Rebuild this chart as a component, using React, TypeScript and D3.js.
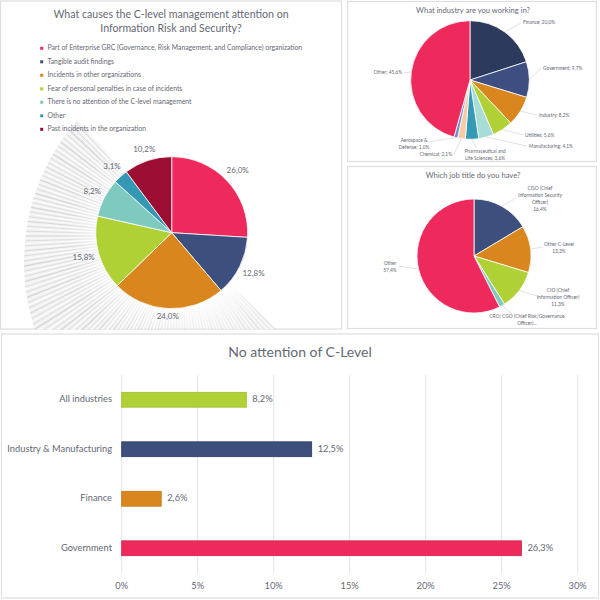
import React from 'react';
import * as d3 from 'd3';

// ---- data ----
const causeLabels = [
  'Part of Enterprise GRC (Governance, Risk Management, and Compliance) organization',
  'Tangible audit findings',
  'Incidents in other organizations',
  'Fear of personal penalties in case of incidents',
  'There is no attention of the C-level management',
  'Other',
  'Past incidents in the organization',
];
const causeValues = [26.0, 12.8, 24.0, 15.8, 8.2, 3.1, 10.2];
const causeColors = ['#ee2a5c', '#3d4f7d', '#d9861f', '#afd135', '#7ecabf', '#3498b5', '#9b0d33'];

const industryNames = [
  'Finance', 'Government', 'Industry', 'Utilities', 'Manufacturing',
  'Pharmaceutical and|Life Sciences', 'Chemical', 'Aerospace &|Defense', 'Other',
];
const industryValues = [20.0, 9.7, 8.2, 5.6, 4.1, 3.6, 2.1, 1.0, 45.6];
const industryColors = ['#2c3a5d', '#3d4f80', '#d9861f', '#afd135', '#a9dcd6', '#3399b5', '#f9cba2', '#6e8fcb', '#ee2a5c'];

const jobNames = [
  'CISO (Chief|Information Security|Officer)', 'Other C-Level', 'CIO (Chief|Information Officer)',
  'CRO; CGO (Chief Risk/Governance|Officer)...', 'Other',
];
const jobValues = [16.4, 13.3, 11.3, 1.6, 57.4];
const jobColors = ['#3d4f7d', '#d9861f', '#afd135', '#7ecabf', '#ee2a5c'];
const jobShowValue = [true, true, true, false, true];

const barCategories = ['All industries', 'Industry & Manufacturing', 'Finance', 'Government'];
const barValues = [8.2, 12.5, 2.6, 26.3];
const barColors = ['#afd135', '#3d4f7d', '#d9861f', '#ee2a5c'];
const barStrokes = ['#9dbd2c', '#2c3a5e', '#c47518', '#d81f4f'];
const barTicks = [0, 5, 10, 15, 20, 25, 30];

// ---- label layout (relative to pie centre) ----
type Lbl = { x: number; y: number; anchor: 'start' | 'middle' | 'end'; lx: number; ly: number };
const industryLayout: Lbl[] = [
  { x: 53, y: -57, anchor: 'start', lx: 51, ly: -57 },
  { x: 73, y: -11, anchor: 'start', lx: 71, ly: -12 },
  { x: 69, y: 36, anchor: 'start', lx: 67, ly: 35 },
  { x: 55, y: 56, anchor: 'start', lx: 53, ly: 55 },
  { x: 59, y: 67, anchor: 'start', lx: 57, ly: 66 },
  { x: 15, y: 72, anchor: 'middle', lx: 6, ly: 68 },
  { x: -18, y: 75, anchor: 'end', lx: -16, ly: 74 },
  { x: -56, y: 61, anchor: 'middle', lx: -42, ly: 62 },
  { x: -68, y: -7, anchor: 'end', lx: -66, ly: -7 },
];
const jobLayout: Lbl[] = [
  { x: 66, y: -67, anchor: 'middle', lx: 42, ly: -58 },
  { x: 85, y: -11, anchor: 'middle', lx: 69, ly: -9 },
  { x: 84, y: 35, anchor: 'middle', lx: 63, ly: 40 },
  { x: 53, y: 61, anchor: 'middle', lx: 38, ly: 58 },
  { x: -84, y: 8, anchor: 'middle', lx: -76, ly: 10 },
];

const FONT = 'Lato, "Open Sans", sans-serif';
const TEXT = '#646873';
const fmt = (v: number) => d3.format('.1f')(v).replace('.', ',') + '%';

const pieGen = d3.pie<number>().sort(null).value(d => d);

function Pie({ cx, cy, r, values, colors }: { cx: number; cy: number; r: number; values: number[]; colors: string[] }) {
  const arcs = pieGen(values);
  const arc = d3.arc<d3.PieArcDatum<number>>().innerRadius(0).outerRadius(r);
  return (
    <g transform={`translate(${cx},${cy})`}>
      {arcs.map((a, i) => (
        <path key={i} d={arc(a) || ''} fill={colors[i]} stroke="#fff" strokeWidth={0.8} />
      ))}
    </g>
  );
}

function LeaderLabels({ cx, cy, r, values, lines, layout, fs }: {
  cx: number; cy: number; r: number; values: number[]; lines: string[][]; layout: Lbl[]; fs: number;
}) {
  const arcs = pieGen(values);
  return (
    <g transform={`translate(${cx},${cy})`} fontFamily={FONT} fontSize={fs} fill={TEXT}>
      {arcs.map((a, i) => {
        const mid = (a.startAngle + a.endAngle) / 2;
        const sx = Math.sin(mid) * r;
        const sy = -Math.cos(mid) * r;
        const L = layout[i];
        return (
          <g key={i}>
            <line x1={sx} y1={sy} x2={L.lx} y2={L.ly} stroke="#c4c4c4" strokeWidth={0.5} />
            <text textAnchor={L.anchor} dominantBaseline="middle">
              {lines[i].map((t, j) => (
                <tspan key={j} x={L.x} y={L.y + j * fs * 1.4}>{t}</tspan>
              ))}
            </text>
          </g>
        );
      })}
    </g>
  );
}

// decorative light-streak background behind the first pie
function Streaks() {
  const c = { x: 182, y: 236 };
  const angles = d3.range(45, 228, 0.9);
  // same fan as the lines, in d3.arc's angle convention (0 = up, clockwise)
  const wedge = d3.arc()({ innerRadius: 0, outerRadius: 340, startAngle: (135 * Math.PI) / 180, endAngle: (318 * Math.PI) / 180 }) || '';
  return (
    <g>
      <defs>
        <radialGradient id="fade" cx={c.x} cy={c.y} r={230} gradientUnits="userSpaceOnUse">
          <stop offset="0" stopColor="#000" />
          <stop offset="0.28" stopColor="#000" />
          <stop offset="0.5" stopColor="#fff" stopOpacity={0.9} />
          <stop offset="0.8" stopColor="#fff" />
          <stop offset="1" stopColor="#000" />
        </radialGradient>
        <mask id="streakMask">
          <rect x={0} y={0} width={342} height={330} fill="url(#fade)" />
        </mask>
        <clipPath id="p1clip">
          <circle cx={240} cy={262} r={216} />
        </clipPath>
      </defs>
      <g clipPath="url(#p1clip)">
        <g mask="url(#streakMask)">
          <path d={wedge} transform={`translate(${c.x},${c.y})`} fill="#f0f0f0" />
          {angles.map((a, i) => {
            const rad = (a * Math.PI) / 180;
            const gray = i % 2 === 0;
            return (
              <line key={i} x1={c.x} y1={c.y} x2={c.x + Math.cos(rad) * 340} y2={c.y + Math.sin(rad) * 340}
                stroke={gray ? '#cdcdcd' : '#ffffff'} strokeWidth={i % 3 === 0 ? 1.1 : 0.7}
                opacity={a < 100 ? 0.55 : 0.85} />
            );
          })}
        </g>
      </g>
    </g>
  );
}

export default function App() {
  // panel 1 pie
  const p1 = { cx: 171.7, cy: 232.7, r: 76 };
  const p1Arcs = pieGen(causeValues);
  const p1fs = 8;

  // panel 2 / 3
  const p2 = { cx: 470, cy: 80, r: 59.3 };
  const p3 = { cx: 474, cy: 256, r: 57 };
  const industryLines = industryNames.map((n, i) => {
    const parts = n.split('|');
    parts[parts.length - 1] += '; ' + fmt(industryValues[i]);
    return parts;
  });
  const jobLines = jobNames.map((n, i) => {
    const parts = n.split('|');
    return jobShowValue[i] ? [...parts, fmt(jobValues[i])] : parts;
  });

  // bar chart
  const x = d3.scaleLinear().domain([0, 30]).range([121.7, 577.7]);
  const y = d3.scaleBand<string>().domain(barCategories).range([375, 573]).paddingInner(0.7).paddingOuter(0.35);

  return (
    <div style={{ position: 'absolute', left: 0, top: 0, width: 600, height: 600 }}>
      <svg width={600} height={600} viewBox="0 0 600 600" style={{ display: 'block', background: '#fff' }}>
        {/* panel frames */}
        <rect x={0.5} y={1} width={341} height={328} fill="#fff" stroke="#dedede" strokeWidth={1.2} />
        <rect x={347.5} y={1.5} width={249} height={160} fill="#fff" stroke="#dedede" strokeWidth={1.2} />
        <rect x={347.5} y={166.5} width={249} height={162} fill="#fff" stroke="#dedede" strokeWidth={1.2} />
        <rect x={1.5} y={334} width={597} height={264} fill="#fff" stroke="#dedede" strokeWidth={1.2} />

        {/* panel 1 */}
        <Streaks />
        <text x={171} y={15} textAnchor="middle" dominantBaseline="middle" fontFamily={FONT} fontSize={10.6} fill={TEXT}>
          <tspan x={171} y={15}>What causes the C-level management attention on</tspan>
          <tspan x={171} y={28.5}>Information Risk and Security?</tspan>
        </text>
        <g fontFamily={FONT} fontSize={6.8} fill={TEXT}>
          {causeLabels.map((t, i) => (
            <g key={i} transform={`translate(0,${48.3 + i * 13.5})`}>
              <rect x={40.2} y={-1.5} width={3} height={3} fill={causeColors[i]} />
              <text x={47.5} y={0} dominantBaseline="middle">{t}</text>
            </g>
          ))}
        </g>
        <Pie {...p1} values={causeValues} colors={causeColors} />
        <g transform={`translate(${p1.cx},${p1.cy})`} fontFamily={FONT} fontSize={p1fs} fill={TEXT}>
          {p1Arcs.map((a, i) => {
            const mid = (a.startAngle + a.endAngle) / 2;
            const s = Math.sin(mid), c = -Math.cos(mid);
            const label = fmt(causeValues[i]);
            const hw = label.length * p1fs * 0.27, hh = p1fs * 0.5;
            const d = p1.r + 4 + Math.abs(s) * hw + Math.abs(c) * hh;
            return (
              <text key={i} x={s * d} y={c * d} textAnchor="middle" dominantBaseline="middle">{label}</text>
            );
          })}
        </g>

        {/* panel 2 */}
        <text x={473} y={11.5} textAnchor="middle" dominantBaseline="middle" fontFamily={FONT} fontSize={7.6} fill={TEXT}>
          What industry are you working in?
        </text>
        <Pie {...p2} values={industryValues} colors={industryColors} />
        <LeaderLabels {...p2} values={industryValues} lines={industryLines} layout={industryLayout} fs={4.8} />

        {/* panel 3 */}
        <text x={473} y={176} textAnchor="middle" dominantBaseline="middle" fontFamily={FONT} fontSize={7.6} fill={TEXT}>
          Which job title do you have?
        </text>
        <Pie {...p3} values={jobValues} colors={jobColors} />
        <LeaderLabels {...p3} values={jobValues} lines={jobLines} layout={jobLayout} fs={4.9} />

        {/* panel 4: bar chart */}
        <text x={300} y={353} textAnchor="middle" dominantBaseline="middle" fontFamily={FONT} fontSize={14} fill={TEXT}>
          No attention of C-Level
        </text>
        {barTicks.map(t => (
          <g key={t}>
            <line x1={x(t)} x2={x(t)} y1={375} y2={573} stroke="#e3e3e3" strokeWidth={1} />
            <text x={x(t)} y={587} textAnchor="middle" dominantBaseline="middle" fontFamily={FONT} fontSize={9.3} fill={TEXT}>
              {t}%
            </text>
          </g>
        ))}
        {barCategories.map((c, i) => (
          <g key={c}>
            <rect x={x(0)} y={y(c)!} width={x(barValues[i]) - x(0)} height={y.bandwidth()}
              fill={barColors[i]} stroke={barStrokes[i]} strokeWidth={0.8} />
            <text x={112} y={y(c)! + y.bandwidth() / 2} textAnchor="end" dominantBaseline="middle"
              fontFamily={FONT} fontSize={9.3} fill={TEXT}>{c}</text>
            <text x={x(barValues[i]) + 6} y={y(c)! + y.bandwidth() / 2} dominantBaseline="middle"
              fontFamily={FONT} fontSize={9.3} fill={TEXT}>{fmt(barValues[i])}</text>
          </g>
        ))}
      </svg>
    </div>
  );
}
